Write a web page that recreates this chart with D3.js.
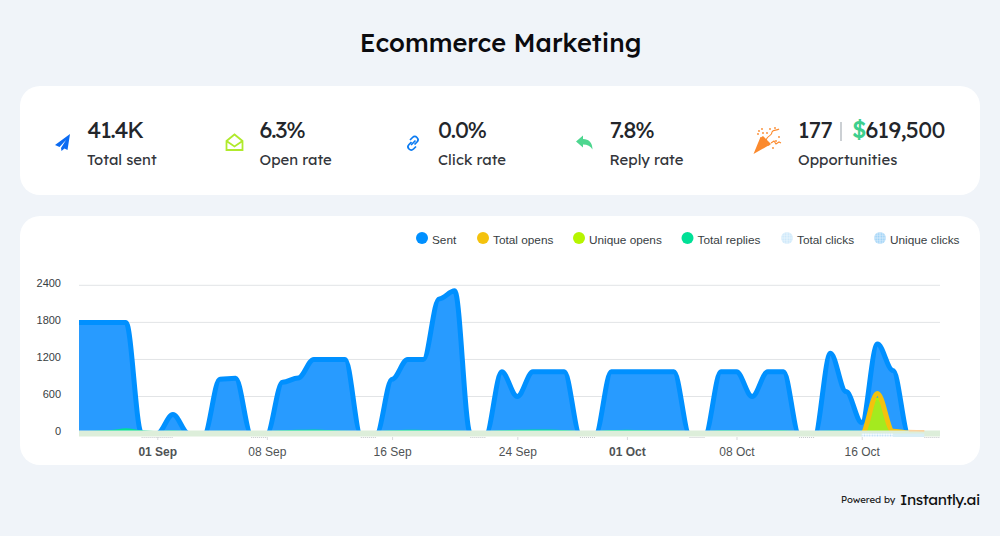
<!DOCTYPE html>
<html>
<head>
<meta charset="utf-8">
<script src="https://cdn.jsdelivr.net/npm/d3@7"></script>
<style>
  html, body { margin: 0; padding: 0; background: #f0f4f9; }
  svg { display: block; }
</style>
</head>
<body>
<svg id="chart" width="1000" height="536"></svg>
<script>
// daily values, 27 Aug to 21 Oct
var days = ["08-27","08-28","08-29","08-30","08-31","09-01","09-02","09-03","09-04","09-05","09-06","09-07","09-08","09-09",
  "09-10","09-11","09-12","09-13","09-14","09-15","09-16","09-17","09-18","09-19","09-20","09-21","09-22","09-23",
  "09-24","09-25","09-26","09-27","09-28","09-29","09-30","10-01","10-02","10-03","10-04","10-05","10-06","10-07",
  "10-08","10-09","10-10","10-11","10-12","10-13","10-14","10-15","10-16","10-17","10-18","10-19","10-20","10-21"];
var sent = [1800,1800,1800,1800,0,0,310,0,0,880,895,0,0,830,
  900,1200,1200,1200,0,0,880,1200,1200,2180,2310,0,0,1000,
  600,1000,1000,1000,0,0,1000,1000,1000,1000,1000,0,0,1000,
  1000,600,1000,1000,0,0,1300,680,180,1450,1020,0,0,0];
var totalOpens = [0,0,0,0,0,0,0,0,0,0,0,0,0,0,
  0,0,0,0,0,0,0,0,0,0,0,0,0,0,
  0,0,0,0,0,0,0,0,0,0,0,0,0,0,
  0,0,0,0,0,0,0,0,0,648,40,10,6,0];
var uniqueOpens = [0,0,0,0,0,0,0,0,0,0,0,0,0,0,
  0,0,0,0,0,0,0,0,0,0,0,0,0,0,
  0,0,0,0,0,0,0,0,0,0,0,0,0,0,
  0,0,0,0,0,0,0,0,0,570,25,0,0,0];
var totalReplies = [0,6,18,45,14,0,12,0,0,6,6,0,0,12,
  20,24,16,6,0,0,14,22,18,14,10,0,0,12,
  20,24,24,18,0,0,18,20,16,14,10,0,0,12,
  14,8,14,12,0,0,10,10,5,20,8,0,0,0];
var totalClicks = [0,0,0,0,0,0,0,0,0,0,0,0,0,0,
  0,0,0,0,0,0,0,0,0,0,0,0,0,0,
  0,0,0,0,0,0,0,0,0,0,0,0,0,0,
  0,0,0,0,0,0,0,0,0,0,0,0,0,0];

// the dotted stretches along the bottom edge
var dottedSpans = [["08-31","09-02"],["09-07","09-08"],["09-14","09-15"],["09-21","09-22"],["09-28","09-29"],["10-05","10-06"],["10-12","10-13"],["10-20","10-21"]];

var legendNames = ["Sent","Total opens","Unique opens","Total replies","Total clicks","Unique clicks"];
var legendColors = ["#0090ff","#f4c20d","#b6f500","#00e096","url(#dotsLight)","url(#dotsBlue)"];
var yTicks = [0,600,1200,1800,2400];
var xTickDays = ["09-01","09-08","09-16","09-24","10-01","10-08","10-16"];
var xTickLabels = ["01 Sep","08 Sep","16 Sep","24 Sep","01 Oct","08 Oct","16 Oct"];
var boldTicks = ["01 Sep","01 Oct"];
var stats = [
  {value:"41.4K", label:"Total sent"},
  {value:"6.3%", label:"Open rate"},
  {value:"0.0%", label:"Click rate"},
  {value:"7.8%", label:"Reply rate"}
];

var parseDay = function(s) {
  var p = s.split("-");
  return new Date(2024, +p[0] - 1, +p[1]);
};
var dates = days.map(parseDay);

var svg = d3.select("#chart");
var uiFont = "Lexend, 'Open Sans', sans-serif";
var chartFont = "'Liberation Sans', Arial, sans-serif";

// spline with control points pulled in from both ends, flat at every point
function SmoothCurve(context) { this._context = context; this._line = NaN; }
SmoothCurve.prototype = {
  areaStart: function() { this._line = 0; },
  areaEnd: function() { this._line = NaN; },
  lineStart: function() { this._point = 0; },
  lineEnd: function() {
    if (this._line) this._context.closePath();
    this._line = 1 - this._line;
  },
  point: function(px, py) {
    px = +px; py = +py;
    if (this._point === 0) {
      this._point = 1;
      if (this._line) this._context.lineTo(px, py); else this._context.moveTo(px, py);
    } else {
      var dx = (px - this._x) * 0.35;
      this._context.bezierCurveTo(this._x + dx, this._y, px - dx, py, px, py);
    }
    this._x = px; this._y = py;
  }
};
var curveSmooth = function(context) { return new SmoothCurve(context); };

// dotted fills for the click series
var defs = svg.append("defs");
function dotPattern(id, back, dot) {
  var pat = defs.append("pattern").attr("id",id).attr("width",2.6).attr("height",2.6).attr("patternUnits","userSpaceOnUse");
  pat.append("rect").attr("width",2.6).attr("height",2.6).attr("fill",back);
  pat.append("circle").attr("cx",1.3).attr("cy",1.3).attr("r",0.8).attr("fill",dot);
}
dotPattern("dotsLight","#e4f3fd","#c4e4f9");
dotPattern("dotsBlue","#cfe8fb","#8ecbf6");
dotPattern("dotsBand","#f8fcff","#bfe1f8");
defs.append("clipPath").attr("id","plot").append("rect").attr("x",79).attr("y",270).attr("width",861).attr("height",167);

// title
svg.append("text").attr("x",500.5).attr("y",52).attr("text-anchor","middle")
  .attr("font-family",uiFont).attr("font-size",25.4).attr("font-weight",500).attr("fill","#0b0b0f")
  .text("Ecommerce Marketing");

// cards
svg.append("rect").attr("x",20).attr("y",86).attr("width",960).attr("height",109).attr("rx",20).attr("fill","#fff");
svg.append("rect").attr("x",20).attr("y",216).attr("width",960).attr("height",249).attr("rx",20).attr("fill","#fff");

var statX = [87,259.5,438,609.5];
stats.forEach(function(s, i) {
  svg.append("text").attr("x",statX[i]).attr("y",138).attr("font-family",uiFont).attr("font-size",23)
    .attr("font-weight",400).attr("letter-spacing",-1.1).attr("fill","#23262b").text(s.value);
  svg.append("text").attr("x",statX[i]).attr("y",165).attr("font-family",uiFont).attr("font-size",14.9)
    .attr("font-weight",400).attr("fill","#33363b").text(s.label);
});

// opportunities
svg.append("text").attr("x",798).attr("y",138).attr("font-family",uiFont).attr("font-size",23)
  .attr("font-weight",400).attr("letter-spacing",-0.9).attr("fill","#23262b").text("177");
svg.append("rect").attr("x",840).attr("y",122).attr("width",2).attr("height",19).attr("fill","#ccd0d4");
svg.append("text").attr("x",852).attr("y",138).attr("font-family",uiFont).attr("font-size",23)
  .attr("font-weight",500).attr("fill","#3ecf8e").text("$");
svg.append("text").attr("x",865.5).attr("y",138).attr("font-family",uiFont).attr("font-size",23)
  .attr("font-weight",400).attr("letter-spacing",-0.7).attr("fill","#23262b").text("619,500");
svg.append("text").attr("x",798).attr("y",165).attr("font-family",uiFont).attr("font-size",14.9)
  .attr("font-weight",400).attr("fill","#33363b").text("Opportunities");

// icons
svg.append("path").attr("d","M70 134 L55 145 L59.5 147 L66 140 L61 148 L61.5 151 L64.5 148.5 L67.5 150 Z").attr("fill","#0b6bf2");
svg.append("path").attr("d","M226.5 141 L234.5 134.5 L242.5 141 V150 H226.5 Z M226.5 141 L234.5 146.5 L242.5 141")
  .attr("fill","none").attr("stroke","#b0ea2c").attr("stroke-width",1.8);
var link = svg.append("g").attr("fill","none").attr("stroke","#0b7bf2").attr("stroke-width",1.7);
link.append("path").attr("d","M410 140 L412.5 137.5 a3 3 0 0 1 4.5 4.5 L414.5 144.5");
link.append("path").attr("d","M411.5 142 L409 144.5 a3 3 0 0 0 4.5 4.5 L416 146.5");
link.append("path").attr("d","M411 145 L415.5 140.5");
svg.append("path").attr("d","M576 141.5 L583 135.5 V139 C589 139 592.5 143 592.5 149.5 C590.5 146 587.5 144.5 583 144.5 V147.5 Z").attr("fill","#4dd68f");
// party popper
var popper = svg.append("g").attr("fill","#fb8a2e").attr("stroke","none");
popper.append("path").attr("d","M753.5 154 L760.5 137 L768.5 145.5 Z");
popper.append("path").attr("d","M760 138 L763 136 L771 144 L768.5 146 Z");
[[759,131],[758,134],[762,129],[763,133],[767,133],[770,129],[776,141],[779,137],[773,148],[775,128]].forEach(function(c) {
  popper.append("circle").attr("cx",c[0]).attr("cy",c[1]).attr("r",0.9);
});
var streamers = svg.append("g").attr("fill","none").attr("stroke","#fb8a2e").attr("stroke-width",1.1);
streamers.append("path").attr("d","M766 140 C768 134 772 137 772 132 C773 129 777 131 779 129");
streamers.append("path").attr("d","M771 143 L774 141 L776 144 L779 142 L781 143");

// scales
var x = d3.scaleTime().domain([parseDay("08-27"),parseDay("10-21")]).range([79,940]);
var y = d3.scaleLinear().domain([0,2400]).range([433.6,285.3]);

// grid
svg.append("g").selectAll("line").data(yTicks.slice(1)).enter().append("line")
  .attr("x1",79).attr("x2",940)
  .attr("y1",function(d){ return y(d); }).attr("y2",function(d){ return y(d); })
  .attr("stroke","#e2e4e6");

// y axis labels
svg.append("g").selectAll("text").data(yTicks).enter().append("text")
  .attr("x",61).attr("text-anchor","end")
  .attr("y",function(d){ return y(d) + 1.8; })
  .attr("font-family",chartFont).attr("font-size",11).attr("fill","#373d3f")
  .text(function(d){ return d; });

// x axis
var xAxis = d3.axisBottom(x)
  .tickValues(xTickDays.map(parseDay))
  .tickSize(3).tickPadding(7)
  .tickFormat(function(d, i){ return xTickLabels[i]; });
var gx = svg.append("g").attr("transform","translate(0,437)").call(xAxis);
gx.select(".domain").remove();
gx.selectAll("line").attr("stroke","#d8dadc");
gx.selectAll("text").attr("font-family",chartFont).attr("font-size",12).attr("fill","#4f5355")
  .attr("font-weight",function(d, i){ return boldTicks.indexOf(xTickLabels[i]) >= 0 ? 700 : 400; });

// dotted stretches just under the band
svg.append("g").selectAll("line").data(dottedSpans).enter().append("line")
  .attr("x1",function(d){ return x(parseDay(d[0])); }).attr("x2",function(d){ return x(parseDay(d[1])); })
  .attr("y1",437.5).attr("y2",437.5)
  .attr("stroke","#c4c7ca").attr("stroke-dasharray","1 1");

var plot = svg.append("g").attr("clip-path","url(#plot)");

function lineOf(vals, from, to) {
  return d3.line()
    .defined(function(d,i){ return i >= (from || 0) && i <= (to === undefined ? vals.length : to); })
    .x(function(d,i){ return x(dates[i]); }).y(function(d){ return y(d); }).curve(curveSmooth)(vals);
}
function areaOf(vals) {
  return d3.area().x(function(d,i){ return x(dates[i]); }).y0(y(0)).y1(function(d){ return y(d); }).curve(curveSmooth)(vals);
}

// sent
plot.append("path").attr("d",areaOf(sent)).attr("fill","#289bff");
plot.append("path").attr("d",lineOf(sent)).attr("fill","none").attr("stroke","#0090ff").attr("stroke-width",5);

// replies
plot.append("path").attr("d",lineOf(totalReplies)).attr("fill","none").attr("stroke","#00e096").attr("stroke-width",5);

// unique opens and total opens, only the last days carry anything
var opensFrom = days.indexOf("10-16");
var opensTail = days.indexOf("10-19");
plot.append("path").attr("d",areaOf(uniqueOpens)).attr("fill","#a4ea1f");
plot.append("path").attr("d",lineOf(uniqueOpens, opensFrom)).attr("fill","none").attr("stroke","#b6f500").attr("stroke-width",2);
plot.append("path").attr("d",lineOf(totalOpens, opensFrom, opensTail)).attr("fill","none").attr("stroke","#f4c20d").attr("stroke-width",5);

// click series are all zero and lie on top, that gives the pale band
plot.append("path").attr("d",lineOf(totalClicks)).attr("fill","none").attr("stroke","#ddeeda").attr("stroke-width",6);
plot.append("path").attr("d",lineOf(totalClicks, opensFrom, days.indexOf("10-20"))).attr("fill","none")
  .attr("stroke","#d8eef6").attr("stroke-width",3.4).attr("transform","translate(0,1.7)");
plot.append("rect").attr("x",x(parseDay("10-16"))).attr("y",y(0)).attr("width",x(parseDay("10-18"))-x(parseDay("10-16"))).attr("height",3.4).attr("fill","url(#dotsBand)");

// the pale end of total opens shows as a thin peach edge along the top of the band
plot.append("path").attr("d",lineOf(totalOpens, opensTail, days.indexOf("10-20"))).attr("fill","none")
  .attr("stroke","#fbd3a0").attr("stroke-width",1.6).attr("transform","translate(0,-2.4)");

// legend
var legendX = [422,483,579,687.5,787,880];
var legendG = svg.append("g").selectAll("g").data(legendNames).enter().append("g")
  .attr("transform",function(d,i){ return "translate(" + legendX[i] + ",238)"; });
legendG.append("circle").attr("r",6).attr("fill",function(d,i){ return legendColors[i]; });
legendG.append("text").attr("x",10).attr("y",5.5)
  .attr("font-family",chartFont).attr("font-size",11.8).attr("fill","#373d3f")
  .text(function(d){ return d; });

// footer
svg.append("text").attr("x",841).attr("y",503).attr("font-family",uiFont).attr("font-size",9.6).attr("fill","#222").text("Powered by");
svg.append("text").attr("x",900).attr("y",505).attr("font-family",uiFont).attr("font-size",15.5).attr("font-weight",400).attr("letter-spacing",-0.4).attr("fill","#111").text("Instantly.ai");
</script>
</body>
</html>
